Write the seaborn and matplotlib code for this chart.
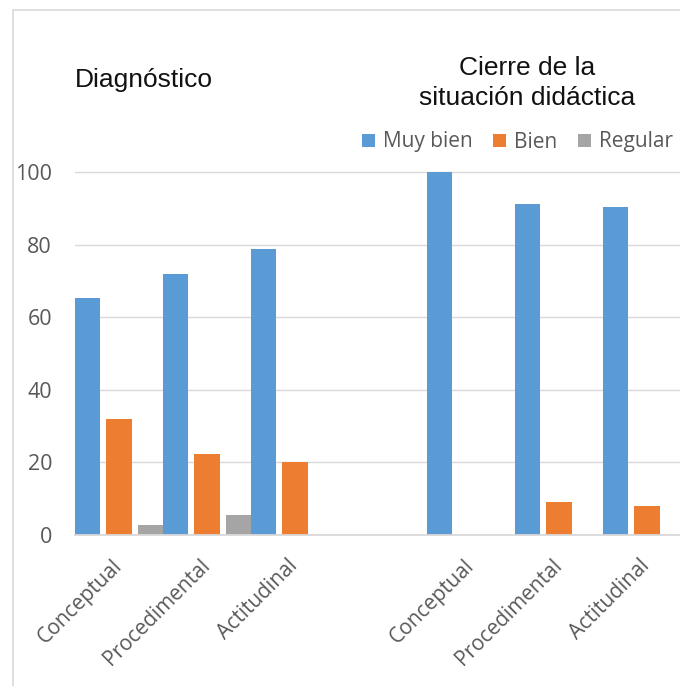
import matplotlib
matplotlib.use("Agg")
import matplotlib.pyplot as plt
import pandas as pd
import seaborn as sns
from matplotlib.patches import Rectangle

# categories (a blank spacer slot separates the two stages)
x_keys = ["d_con", "d_pro", "d_act", "gap", "c_con", "c_pro", "c_act"]
x_labels = ["Conceptual", "Procedimental", "Actitudinal", "",
            "Conceptual", "Procedimental", "Actitudinal"]
data_keys = ["d_con", "d_pro", "d_act", "c_con", "c_pro", "c_act"]

levels = ["Muy bien", "Bien", "Regular"]
muy_bien = [65.2, 71.9, 78.8, 100.0, 91.2, 90.3]
bien = [32.0, 22.2, 20.2, 0.0, 9.2, 8.1]
regular = [2.8, 5.5, 0.0, 0.0, 0.0, 0.0]

colors = ["#5b9bd5", "#ed7d31", "#a5a5a5"]

df = pd.DataFrame({
    "key": data_keys * 3,
    "nivel": [levels[0]] * 6 + [levels[1]] * 6 + [levels[2]] * 6,
    "valor": muy_bien + bien + regular,
})

sns.set_style("white")
plt.rcParams["font.family"] = ["Open Sans", "DejaVu Sans"]

W, H = 680, 686
fig = plt.figure(figsize=(W / 100, H / 100), dpi=100)

# chart frame
fig.patches.append(Rectangle((13 / W, -0.02), 1.0, (H - 10) / H + 0.02,
                             transform=fig.transFigure, fill=False,
                             edgecolor="#d9d9d9", linewidth=1.2))

ymax = 101
px_per_unit = 3.63
ax = fig.add_axes([75 / W, (H - 535) / H, 616 / W, ymax * px_per_unit / H])

sns.barplot(data=df, x="key", y="valor", hue="nivel", order=x_keys,
            hue_order=levels, palette=colors, width=1.075, gap=0.2,
            linewidth=0, saturation=1, ax=ax)

ax.set_xlim(-0.5, len(x_keys) - 0.5)
ax.set_ylim(0, ymax)
ax.set_yticks([0, 20, 40, 60, 80, 100])
ax.set_xticks(range(len(x_keys)))
ax.set_xticklabels(x_labels, rotation=45, ha="right", va="center",
                   rotation_mode="anchor")
ax.set_xlabel("")
ax.set_ylabel("")
ax.tick_params(axis="x", length=0, pad=20, labelsize=15, labelcolor="#595959")
ax.tick_params(axis="y", length=0, pad=16.5, labelsize=15.5, labelcolor="#595959")

ax.set_axisbelow(True)
ax.yaxis.grid(True, color="#d9d9d9", linewidth=1.0)
for side in ["top", "right", "left"]:
    ax.spines[side].set_visible(False)
ax.spines["bottom"].set_color("#d9d9d9")
ax.spines["bottom"].set_linewidth(1.3)

sns.move_legend(ax, "center left", bbox_to_anchor=(362 / W, (H - 142) / H),
                bbox_transform=fig.transFigure, ncol=3, frameon=False,
                title=None, fontsize=15, handlelength=0.6, handleheight=0.6,
                handletextpad=0.4, columnspacing=1.0, borderpad=0,
                borderaxespad=0, labelcolor="#595959")

title_kw = dict(family=["Liberation Sans", "DejaVu Sans"], fontsize=19,
                color="#111111", ha="center", va="baseline")
fig.text(144 / W, (H - 87) / H, "Diagnóstico", **title_kw)
fig.text(527 / W, (H - 75) / H, "Cierre de la", **title_kw)
fig.text(527 / W, (H - 105) / H, "situación didáctica", **title_kw)

fig.savefig("out.png", dpi=100)
